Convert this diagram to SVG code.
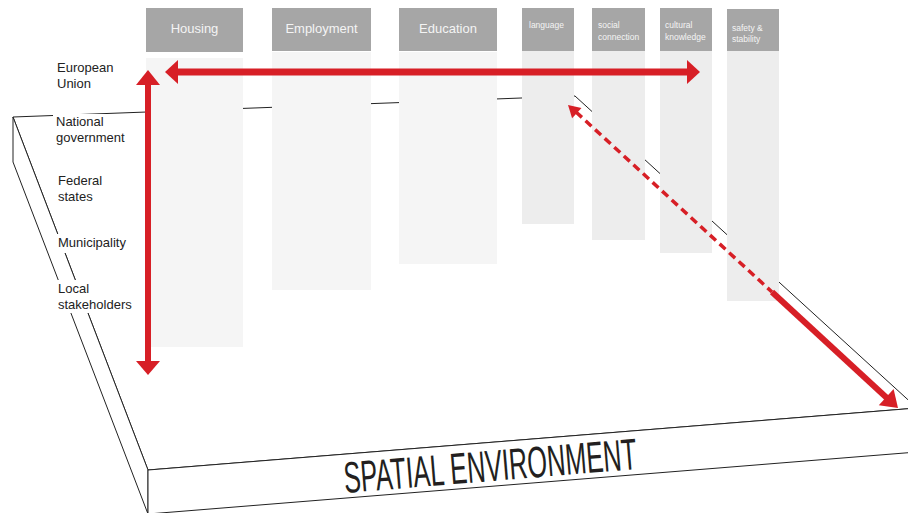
<svg xmlns="http://www.w3.org/2000/svg" width="908" height="513" viewBox="0 0 908 513">
<style>
.edge{fill:none;stroke:#222;stroke-width:1}
.face{fill:#fff;stroke:#222;stroke-width:1}
.hdr{fill:#a6a6a6}
.bodyA{fill:#f5f5f5}
.bodyB{fill:#ededed}
.ht{font-family:"Liberation Sans",Arial,sans-serif;font-size:13px;fill:#f4f4f4;text-anchor:middle}
.hs{font-family:"Liberation Sans",Arial,sans-serif;font-size:8.5px;fill:#f4f4f4}
.lbl{font-family:"Liberation Sans",Arial,sans-serif;font-size:13px;fill:#222}
.red{fill:#d71f26}
.rs{stroke:#d71f26;fill:none}
</style>
<rect width="908" height="513" fill="#fff"/>
<g id="platform">
  <polygon class="face" points="13,117 575,96 917,408 148,470"/>
  <polygon class="face" points="13,117 148,470 148,514 13,162"/>
  <polygon class="face" points="148,470 917,408 917,452 148,514"/>
  <text transform="translate(345,493) rotate(-4.7)" font-family="'Liberation Sans',Arial,sans-serif" font-size="44" fill="#231f20" textLength="294" lengthAdjust="spacingAndGlyphs">SPATIAL ENVIRONMENT</text>
</g>
<g id="levels">
  <g id="lvl-eu"><rect x="53" y="60" width="64" height="32" fill="#fff"/><text class="lbl" x="57" y="72">European</text><text class="lbl" x="57" y="88">Union</text></g>
  <g id="lvl-national"><rect x="53" y="114" width="76" height="32" fill="#fff"/><text class="lbl" x="56" y="126">National</text><text class="lbl" x="56" y="142">government</text></g>
  <g id="lvl-federal"><rect x="55" y="173" width="50" height="32" fill="#fff"/><text class="lbl" x="58" y="185">Federal</text><text class="lbl" x="58" y="201">states</text></g>
  <g id="lvl-municipality"><rect x="55" y="234" width="74" height="19" fill="#fff"/><text class="lbl" x="58" y="247">Municipality</text></g>
  <g id="lvl-local"><rect x="55" y="280" width="80" height="33" fill="#fff"/><text class="lbl" x="58" y="293">Local</text><text class="lbl" x="58" y="309">stakeholders</text></g>
</g>
<g id="col-housing"><rect class="bodyA" x="146" y="58" width="97" height="289"/><rect class="hdr" x="146" y="8" width="97" height="44"/><text class="ht" x="194.5" y="33">Housing</text></g>
<g id="col-employment"><rect class="bodyA" x="272" y="52" width="99" height="238"/><rect class="hdr" x="272" y="8" width="99" height="43"/><text class="ht" x="321.5" y="33">Employment</text></g>
<g id="col-education"><rect class="bodyA" x="399" y="52" width="98" height="212"/><rect class="hdr" x="399" y="8" width="98" height="43"/><text class="ht" x="448" y="33">Education</text></g>
<g id="col-language"><rect class="bodyB" x="522" y="51" width="52" height="173"/><rect class="hdr" x="522" y="8" width="52" height="43"/><text class="hs" x="529" y="28">language</text></g>
<g id="col-social"><rect class="bodyB" x="592" y="51" width="53" height="189"/><rect class="hdr" x="592" y="8" width="53" height="43"/><text class="hs" x="598" y="28">social</text><text class="hs" x="598" y="40">connection</text></g>
<g id="col-cultural"><rect class="bodyB" x="660" y="51" width="52" height="202"/><rect class="hdr" x="660" y="8" width="52" height="43"/><text class="hs" x="665" y="28">cultural</text><text class="hs" x="665" y="40">knowledge</text></g>
<g id="col-safety"><rect class="bodyB" x="727" y="51" width="52" height="250"/><rect class="hdr" x="727" y="9" width="52" height="42"/><text class="hs" x="732" y="31">safety &amp;</text><text class="hs" x="732" y="42">stability</text></g>
<g id="connectors">
  <line class="rs" x1="177" y1="72" x2="688" y2="72" stroke-width="7"/>
  <polygon class="red" points="165,72 178,60 178,84"/>
  <polygon class="red" points="700,72 687,60 687,84"/>
  <line class="rs" x1="148" y1="84" x2="148" y2="362" stroke-width="6"/>
  <polygon class="red" points="148,70 136,85 160,85"/>
  <polygon class="red" points="148,375 136,361 160,361"/>
  <line class="rs" x1="576" y1="112" x2="772" y2="292" stroke-width="3.5" stroke-dasharray="8,5"/>
  <polygon class="red" points="568,105 572.1,118.3 581.5,107.9"/>
  <line class="rs" x1="772" y1="292" x2="888" y2="399" stroke-width="6"/>
  <polygon class="red" points="898,408 878.8,405.3 893.6,389.1"/>
</g>
</svg>
